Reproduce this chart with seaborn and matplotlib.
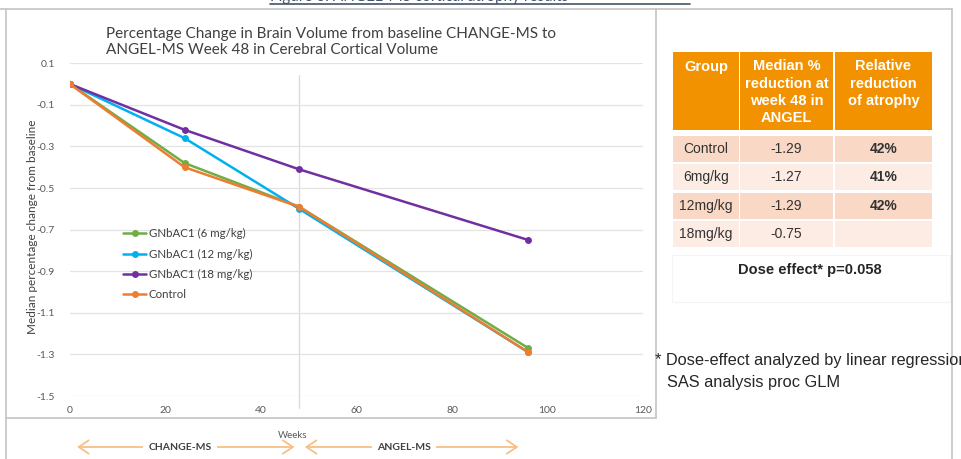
import pandas as pd
import matplotlib.pyplot as plt
import seaborn as sns
from matplotlib.patches import Rectangle
from matplotlib.lines import Line2D

# Chart data.
weeks = [0, 24, 48, 96]
gnbac1_6 = [0.0, -0.38, -0.59, -1.27]
gnbac1_12 = [0.0, -0.26, -0.60, -1.29]
gnbac1_18 = [0.0, -0.22, -0.41, -0.75]
control = [0.0, -0.40, -0.59, -1.29]
series_names = ["GNbAC1 (6 mg/kg)", "GNbAC1 (12 mg/kg)", "GNbAC1 (18 mg/kg)", "Control"]
series_colors = ["#70AD47", "#00B0F0", "#7030A0", "#ED7D31"]
y_ticks = [0.1, -0.1, -0.3, -0.5, -0.7, -0.9, -1.1, -1.3, -1.5]
x_ticks = [0, 20, 40, 60, 80, 100, 120]

# Table data.
table_header = ["Group", "Median %\nreduction at\nweek 48 in\nANGEL", "Relative\nreduction\nof atrophy"]
table_groups = ["Control", "6mg/kg", "12mg/kg", "18mg/kg"]
table_median = ["-1.29", "-1.27", "-1.29", "-0.75"]
table_relative = ["42%", "41%", "42%", ""]

W, H = 961, 459


def px(x, y):
    return x / W, 1 - y / H


sns.set_theme(style="white")
plt.rcParams["font.family"] = ["Lato", "DejaVu Sans"]

fig = plt.figure(figsize=(W / 100, H / 100), dpi=100)
ax = fig.add_axes([70 / W, 1 - 396 / H, 573 / W, 332.7 / H])

df = pd.DataFrame({
    "week": weeks * 4,
    "value": gnbac1_6 + gnbac1_12 + gnbac1_18 + control,
    "group": [n for n in series_names for _ in weeks],
})
sns.lineplot(data=df, x="week", y="value", hue="group", hue_order=series_names,
             palette=series_colors, marker="o", markersize=5, markeredgewidth=0,
             linewidth=1.8, ax=ax, legend=False)

ax.set_xlim(0, 120)
ax.set_ylim(-1.5, 0.1)
ax.set_yticks(y_ticks)
ax.set_yticklabels([f"{v:g}" for v in y_ticks])
ax.set_xticks(x_ticks)
ax.set_xticklabels([str(v) for v in x_ticks])
ax.tick_params(axis="y", length=0, pad=11, labelsize=7.5, labelcolor="#595959")
ax.tick_params(axis="x", length=0, pad=7, labelsize=7.5, labelcolor="#595959")
ax.grid(axis="y", color="#E3E3E3", lw=0.9)
for s in ax.spines.values():
    s.set_visible(False)

ax.set_ylabel("Median percentage change from baseline", fontsize=8.5, color="#404040")
ax.yaxis.set_label_coords(-0.056, 0.51)
ax.set_xlabel("Weeks", fontsize=7, color="#595959")
ax.xaxis.set_label_coords((293 - 70) / 573, (396 - 431) / 332.7)

# Week 48 divider.
ax.axvline(48, ymin=-0.036, ymax=0.965, color="#D9D9D9", lw=0.9, clip_on=False, zorder=0)

handles = [Line2D([], [], color=c, lw=1.8, marker="o", markersize=5, markeredgewidth=0)
           for c in series_colors]
ax.legend(handles, series_names, loc="upper left", bbox_to_anchor=(0.075, 0.535),
          frameon=False, fontsize=8.3, handlelength=2.0, handletextpad=0.2,
          labelspacing=0.8, labelcolor="#404040")

# Study period arrows.
trans = ax.get_xaxis_transform()
ay = (396 - 447) / 332.7
arrow_kw = dict(arrowstyle="<->,head_length=0.6,head_width=0.4", color="#F7C085", lw=1.3)
ax.annotate("", xy=(0.9, ay), xytext=(47.6, ay), xycoords=trans, textcoords=trans,
            arrowprops=arrow_kw, annotation_clip=False)
ax.annotate("", xy=(48.6, ay), xytext=(94.5, ay), xycoords=trans, textcoords=trans,
            arrowprops=arrow_kw, annotation_clip=False)
for label, xc in [("CHANGE-MS", 23), ("ANGEL-MS", 70)]:
    ax.text(xc, ay, label, transform=trans, ha="center", va="center", fontsize=7.5,
            fontweight="bold", color="#404040", clip_on=False,
            bbox=dict(boxstyle="square,pad=0.5", fc="white", ec="none"))

# Title.
fig.text(*px(106, 42), "Percentage Change in Brain Volume from baseline CHANGE-MS to\n"
         "ANGEL-MS Week 48 in Cerebral Cortical Volume", ha="left", va="center",
         fontsize=11, color="#404040", linespacing=1.2)

# Slide frame lines.
frame = "#C4C4C4"
for (x0, y0), (x1, y1) in [((0, 9), (952, 9)), ((6, 9), (6, 459)), ((6, 418), (656, 418)),
                           ((656, 9), (656, 418)), ((952, 9), (952, 459))]:
    fig.add_artist(Line2D([x0 / W, x1 / W], [1 - y0 / H, 1 - y1 / H], color=frame, lw=1.2))

# Cut-off page heading.
fig.text(*px(270, 1.5), "Figure 6: ANGEL-MS cortical atrophy results", ha="left", va="baseline",
         fontsize=11, color="#44546A")
fig.add_artist(Line2D([270 / W, 690 / W], [1 - 3.5 / H] * 2, color="#44546A", lw=1.2))

# Results table.
tfont = ["Liberation Sans", "DejaVu Sans"]
col_left = [673, 740, 835]
col_width = [66, 93, 97]
for j, head in enumerate(table_header):
    x0 = col_left[j]
    fig.add_artist(Rectangle(px(x0, 130), col_width[j] / W, 78 / H,
                             transform=fig.transFigure, fc="#F39200", ec="none"))
    fig.text(*px(x0 + col_width[j] / 2, 59.5), head, ha="center", va="top", fontsize=10.5,
             fontweight="bold", color="white", family=tfont, linespacing=1.3)

row_colors = ["#F9D8C6", "#FDECE4"]
for i, grp in enumerate(table_groups):
    top = 136 + i * 28.4
    cells = [grp, table_median[i], table_relative[i]]
    for j, val in enumerate(cells):
        x0 = col_left[j]
        fig.add_artist(Rectangle(px(x0, top + 26), col_width[j] / W, 26 / H,
                                 transform=fig.transFigure, fc=row_colors[i % 2], ec="none"))
        fig.text(*px(x0 + col_width[j] / 2, top + 13), val, ha="center", va="center",
                 fontsize=10, color="#333333", family=tfont,
                 fontweight="bold" if j == 2 else "normal")

fig.add_artist(Rectangle(px(672, 302), 278 / W, 47 / H, transform=fig.transFigure,
                         fc="none", ec="#F4F4F4", lw=0.8))
fig.text(*px(810, 270), "Dose effect* p=0.058", ha="center", va="center", fontsize=10.5,
         fontweight="bold", color="#262626", family=tfont)

fig.text(*px(655, 361), "* Dose-effect analyzed by linear regression", ha="left", va="center",
         fontsize=11.8, color="#262626", family=tfont)
fig.text(*px(667, 382), "SAS analysis proc GLM", ha="left", va="center",
         fontsize=11.8, color="#262626", family=tfont)

fig.savefig("out.png", dpi=100)
